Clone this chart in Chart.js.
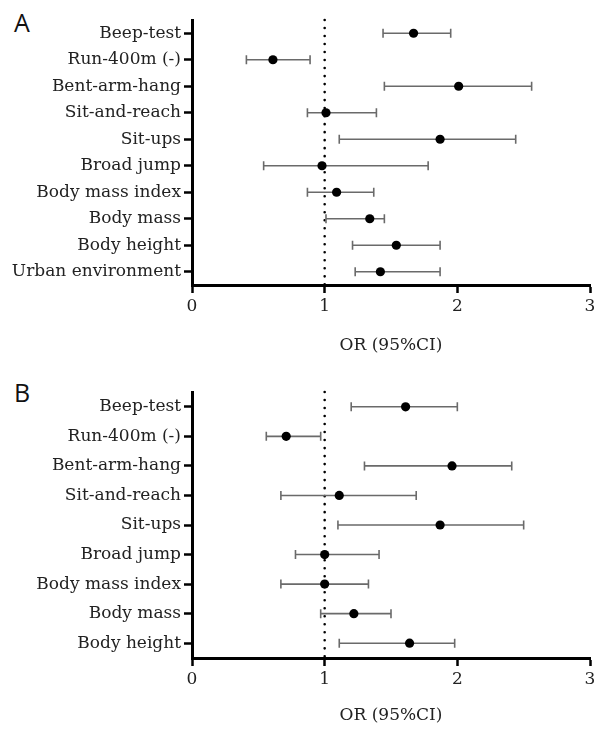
<!DOCTYPE html>
<html>
<head>
<meta charset="utf-8">
<script src="https://cdn.jsdelivr.net/npm/chart.js@4.4.1/dist/chart.umd.min.js"></script>
<style>
  html, body { margin: 0; padding: 0; background: #fff; }
  body { width: 595px; height: 729px; position: relative; overflow: hidden; }
  .panel { position: absolute; left: 0; width: 595px; }
  .letter { position: absolute; font-family: "Open Sans", sans-serif; font-size: 25px; color: #111; line-height: 1; }
</style>
</head>
<body>
<div class="letter" style="left:14px; top:10px;">A</div>
<div class="letter" style="left:14px; top:380px;">B</div>
<div class="panel" style="top:0; height:365px;"><canvas id="chartA" width="595" height="365"></canvas></div>
<div class="panel" style="top:365px; height:364px;"><canvas id="chartB" width="595" height="364"></canvas></div>
<script>
// ---- data ----
const categoriesA = ["Beep-test", "Run-400m (-)", "Bent-arm-hang", "Sit-and-reach", "Sit-ups", "Broad jump", "Body mass index", "Body mass", "Body height", "Urban environment"];
const orA   = [1.67, 0.61, 2.01, 1.01, 1.87, 0.98, 1.09, 1.34, 1.54, 1.42];
const lowA  = [1.44, 0.41, 1.45, 0.87, 1.11, 0.54, 0.87, 1.01, 1.21, 1.23];
const highA = [1.95, 0.89, 2.56, 1.39, 2.44, 1.78, 1.37, 1.45, 1.87, 1.87];

const categoriesB = ["Beep-test", "Run-400m (-)", "Bent-arm-hang", "Sit-and-reach", "Sit-ups", "Broad jump", "Body mass index", "Body mass", "Body height"];
const orB   = [1.61, 0.71, 1.96, 1.11, 1.87, 1.00, 1.00, 1.22, 1.64];
const lowB  = [1.20, 0.56, 1.30, 0.67, 1.10, 0.78, 0.67, 0.97, 1.11];
const highB = [2.00, 0.97, 2.41, 1.69, 2.50, 1.41, 1.33, 1.50, 1.98];

const xTicks = [0, 1, 2, 3];
const refLine = 1;
const xTitle = "OR (95%CI)";

// ---- plugin: error bars + dotted reference line ----
const forestPlugin = {
  id: 'forest',
  beforeDatasetsDraw(chart, args, opts) {
    const { ctx, chartArea, scales } = chart;
    const xs = scales.x, ys = scales.y;
    ctx.save();
    ctx.strokeStyle = '#000';
    ctx.lineWidth = 2.6;
    ctx.lineCap = 'round';
    ctx.setLineDash([0.01, 8]);
    const rx = xs.getPixelForValue(opts.ref);
    ctx.beginPath();
    ctx.moveTo(rx, chartArea.top);
    ctx.lineTo(rx, chartArea.bottom);
    ctx.stroke();
    ctx.restore();
    ctx.save();
    ctx.strokeStyle = '#6a6a6a';
    ctx.lineWidth = 1.6;
    const cap = 4.5;
    opts.low.forEach((lo, i) => {
      const hi = opts.high[i];
      const y = ys.getPixelForValue(i);
      const x1 = xs.getPixelForValue(lo), x2 = xs.getPixelForValue(hi);
      ctx.beginPath();
      ctx.moveTo(x1, y); ctx.lineTo(x2, y);
      ctx.moveTo(x1, y - cap); ctx.lineTo(x1, y + cap);
      ctx.moveTo(x2, y - cap); ctx.lineTo(x2, y + cap);
      ctx.stroke();
    });
    ctx.restore();
  }
};

const serif = "'DejaVu Serif', serif";

function makeChart(id, cats, or, low, high, topPad, axisHeight, titleBottomPad) {
  return new Chart(document.getElementById(id), {
    type: 'line',
    data: {
      labels: cats,
      datasets: [{
        data: or,
        showLine: false,
        pointRadius: 4.6,
        pointHoverRadius: 4.6,
        pointBackgroundColor: '#000',
        pointBorderColor: '#000',
        pointBorderWidth: 0
      }]
    },
    plugins: [forestPlugin],
    options: {
      responsive: false,
      animation: false,
      indexAxis: 'y',
      layout: { padding: { top: topPad, right: 5, left: 0, bottom: 0 } },
      plugins: {
        legend: { display: false },
        tooltip: { enabled: false },
        forest: { ref: refLine, low: low, high: high }
      },
      scales: {
        y: {
          type: 'category',
          offset: true,
          afterFit(scale) { scale.width = 192; scale.paddingTop = 0; scale.paddingBottom = 0; },
          grid: { drawOnChartArea: false, drawTicks: true, tickLength: 8, tickColor: '#000', tickWidth: 2.5 },
          border: { display: true, color: '#000', width: 3 },
          ticks: { color: '#222', font: { family: serif, size: 17 }, padding: 3 }
        },
        x: {
          type: 'linear',
          min: xTicks[0],
          max: xTicks[xTicks.length - 1],
          afterBuildTicks(scale) { scale.ticks = xTicks.map(v => ({ value: v })); },
          afterFit(scale) { scale.height = axisHeight; scale.paddingLeft = 0; scale.paddingRight = 0; },
          grid: { drawOnChartArea: false, drawTicks: true, tickLength: 8, tickColor: '#000', tickWidth: 2.5 },
          border: { display: true, color: '#000', width: 3 },
          ticks: { color: '#222', font: { family: serif, size: 17 }, padding: 3, maxRotation: 0 },
          title: { display: true, text: xTitle, color: '#222', font: { family: serif, size: 17 }, padding: { top: 0, bottom: titleBottomPad } }
        }
      }
    }
  });
}

makeChart('chartA', categoriesA, orA, lowA, highA, 20, 80, 9);
makeChart('chartB', categoriesB, orB, lowB, highB, 27, 71, 3);
</script>
</body>
</html>
